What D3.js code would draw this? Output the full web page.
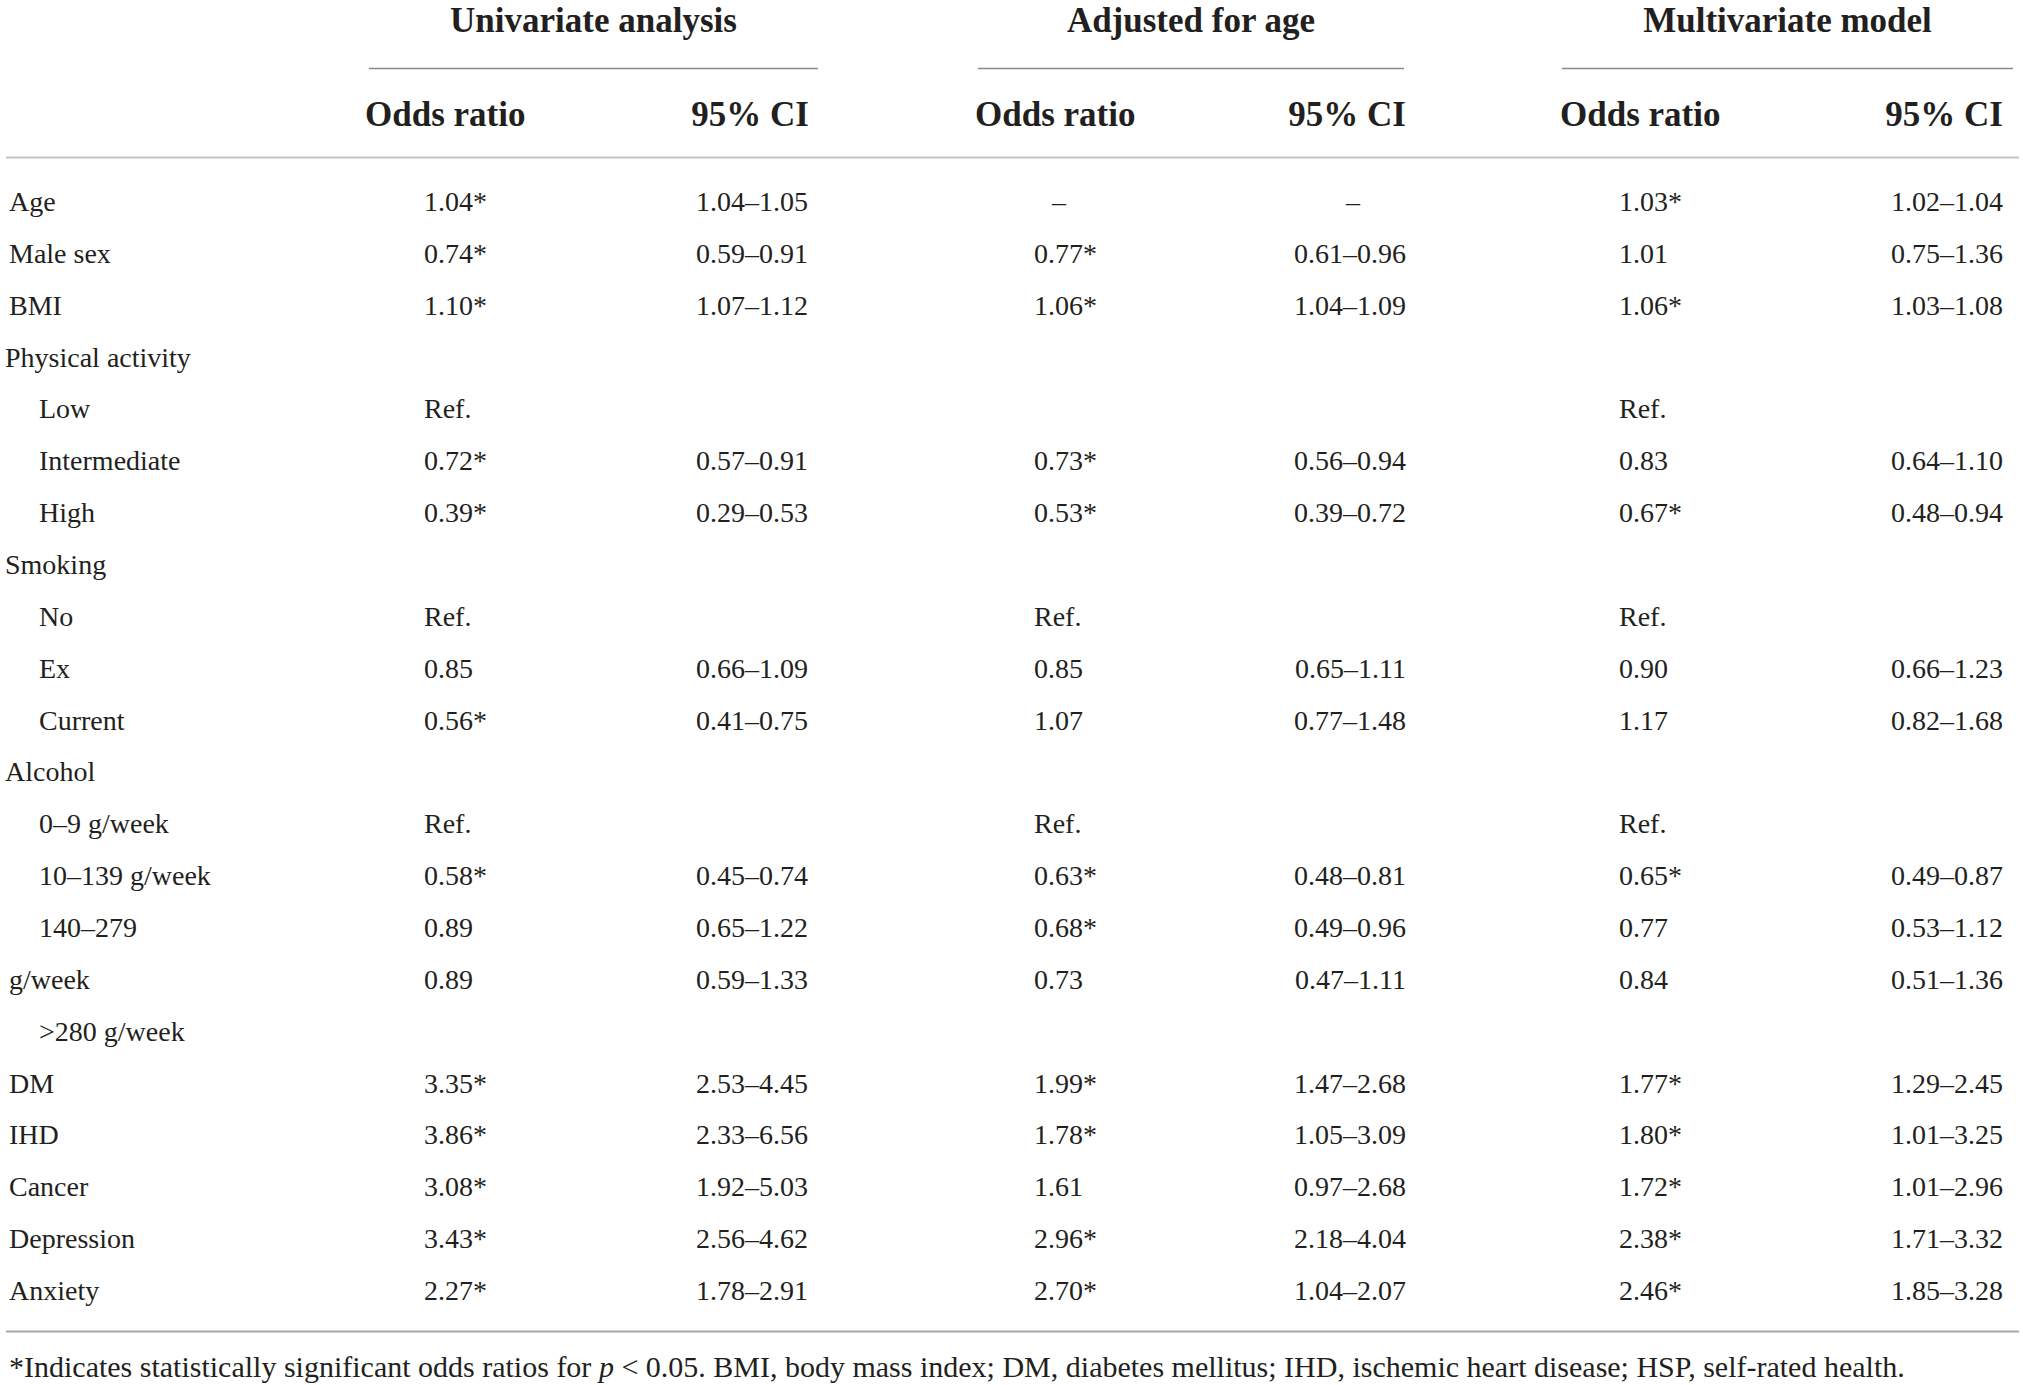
<!DOCTYPE html>
<html>
<head>
<meta charset="utf-8">
<script src="https://cdn.jsdelivr.net/npm/d3@7/dist/d3.min.js"></script>
<style>
  html, body { margin: 0; padding: 0; background: #ffffff; }
  svg { display: block; }
  text { font-family: "Liberation Serif", "Times New Roman", serif; fill: #231f20; }
</style>
</head>
<body>
<svg id="chart" width="2023" height="1385"></svg>
<script>
// ---------------- DATA ----------------
const groupHeaders = ["Univariate analysis", "Adjusted for age", "Multivariate model"];
const subHeaders = ["Odds ratio", "95% CI"];

const rowLabels = ["Age", "Male sex", "BMI", "Physical activity", "Low", "Intermediate", "High",
  "Smoking", "No", "Ex", "Current", "Alcohol", "0–9 g/week", "10–139 g/week", "140–279",
  "g/week", ">280 g/week", "DM", "IHD", "Cancer", "Depression", "Anxiety"];
// -1 = section heading, 0 = main item, 1 = indented sub-item
const rowLevels = [0, 0, 0, -1, 1, 1, 1, -1, 1, 1, 1, -1, 1, 1, 1, 0, 1, 0, 0, 0, 0, 0];

const uniOR = ["1.04*", "0.74*", "1.10*", "", "Ref.", "0.72*", "0.39*", "", "Ref.", "0.85", "0.56*", "",
  "Ref.", "0.58*", "0.89", "0.89", "", "3.35*", "3.86*", "3.08*", "3.43*", "2.27*"];
const uniCI = ["1.04–1.05", "0.59–0.91", "1.07–1.12", "", "", "0.57–0.91", "0.29–0.53", "", "", "0.66–1.09", "0.41–0.75", "",
  "", "0.45–0.74", "0.65–1.22", "0.59–1.33", "", "2.53–4.45", "2.33–6.56", "1.92–5.03", "2.56–4.62", "1.78–2.91"];
const adjOR = ["–", "0.77*", "1.06*", "", "", "0.73*", "0.53*", "", "Ref.", "0.85", "1.07", "",
  "Ref.", "0.63*", "0.68*", "0.73", "", "1.99*", "1.78*", "1.61", "2.96*", "2.70*"];
const adjCI = ["–", "0.61–0.96", "1.04–1.09", "", "", "0.56–0.94", "0.39–0.72", "", "", "0.65–1.11", "0.77–1.48", "",
  "", "0.48–0.81", "0.49–0.96", "0.47–1.11", "", "1.47–2.68", "1.05–3.09", "0.97–2.68", "2.18–4.04", "1.04–2.07"];
const mvOR = ["1.03*", "1.01", "1.06*", "", "Ref.", "0.83", "0.67*", "", "Ref.", "0.90", "1.17", "",
  "Ref.", "0.65*", "0.77", "0.84", "", "1.77*", "1.80*", "1.72*", "2.38*", "2.46*"];
const mvCI = ["1.02–1.04", "0.75–1.36", "1.03–1.08", "", "", "0.64–1.10", "0.48–0.94", "", "", "0.66–1.23", "0.82–1.68", "",
  "", "0.49–0.87", "0.53–1.12", "0.51–1.36", "", "1.29–2.45", "1.01–3.25", "1.01–2.96", "1.71–3.32", "1.85–3.28"];

const footnoteParts = [
  { t: "*Indicates statistically significant odds ratios for ", italic: false },
  { t: "p", italic: true },
  { t: " < 0.05. BMI, body mass index; DM, diabetes mellitus; IHD, ischemic heart disease; HSP, self-rated health.", italic: false }
];

// ---------------- LAYOUT ----------------
const svg = d3.select("#chart");
const bodySize = 28, headSize = 35;

const y = d3.scalePoint().domain(d3.range(rowLabels.length)).range([211, 1300]);
const labelX = d3.scaleOrdinal().domain([-1, 0, 1]).range([5, 9, 39]);

// column layout: value anchor x, anchor type, dash center, header x
const columns = [
  { vals: uniOR, x: 424, anchor: "start", dash: 438, hx: 365, hAnchor: "start", head: subHeaders[0] },
  { vals: uniCI, x: 808, anchor: "end", dash: 752, hx: 809, hAnchor: "end", head: subHeaders[1] },
  { vals: adjOR, x: 1034, anchor: "start", dash: 1059, hx: 975, hAnchor: "start", head: subHeaders[0] },
  { vals: adjCI, x: 1406, anchor: "end", dash: 1353, hx: 1406, hAnchor: "end", head: subHeaders[1] },
  { vals: mvOR, x: 1619, anchor: "start", dash: 1640, hx: 1560, hAnchor: "start", head: subHeaders[0] },
  { vals: mvCI, x: 2003, anchor: "end", dash: 1947, hx: 2003, hAnchor: "end", head: subHeaders[1] }
];
const groups = [
  { name: groupHeaders[0], x0: 369, x1: 818 },
  { name: groupHeaders[1], x0: 978, x1: 1404 },
  { name: groupHeaders[2], x0: 1562, x1: 2013 }
];

// group headers
svg.selectAll("text.group").data(groups).join("text")
  .attr("class", "group")
  .attr("x", d => (d.x0 + d.x1) / 2)
  .attr("y", 32)
  .attr("text-anchor", "middle")
  .attr("font-size", headSize)
  .attr("font-weight", "bold")
  .text(d => d.name);

svg.selectAll("line.gline").data(groups).join("line")
  .attr("class", "gline")
  .attr("x1", d => d.x0).attr("x2", d => d.x1)
  .attr("y1", 68.5).attr("y2", 68.5)
  .attr("stroke", "#8a8a8a").attr("stroke-width", 1.6);

// sub headers
svg.selectAll("text.sub").data(columns).join("text")
  .attr("class", "sub")
  .attr("x", d => d.hx)
  .attr("y", 126)
  .attr("text-anchor", d => d.hAnchor)
  .attr("font-size", headSize)
  .attr("font-weight", "bold")
  .text(d => d.head);

// header rule
svg.append("line")
  .attr("x1", 6).attr("x2", 2019)
  .attr("y1", 157.5).attr("y2", 157.5)
  .attr("stroke", "#c4c4c4").attr("stroke-width", 2);

// row labels
svg.selectAll("text.label").data(rowLabels).join("text")
  .attr("class", "label")
  .attr("x", (d, i) => labelX(rowLevels[i]))
  .attr("y", (d, i) => y(i))
  .attr("font-size", bodySize)
  .text(d => d);

// cell values
columns.forEach((col, ci) => {
  svg.selectAll("text.c" + ci).data(col.vals).join("text")
    .attr("class", "c" + ci)
    .attr("x", d => d === "–" ? col.dash : col.x)
    .attr("y", (d, i) => y(i))
    .attr("text-anchor", d => d === "–" ? "middle" : col.anchor)
    .attr("font-size", bodySize)
    .text(d => d);
});

// bottom rule
svg.append("line")
  .attr("x1", 6).attr("x2", 2019)
  .attr("y1", 1331.5).attr("y2", 1331.5)
  .attr("stroke", "#a8a8a8").attr("stroke-width", 2);

// footnote
const foot = svg.append("text")
  .attr("x", 9).attr("y", 1377)
  .attr("font-size", 26);
foot.selectAll("tspan").data(footnoteParts).join("tspan")
  .attr("font-style", d => d.italic ? "italic" : "normal")
  .text(d => d.t);
// fit footnote to the measured width of the reference line
const len = foot.node().getComputedTextLength();
const fs = Math.max(20, Math.min(30, 26 * 1913 / len));
foot.attr("font-size", fs);
</script>
</body>
</html>
